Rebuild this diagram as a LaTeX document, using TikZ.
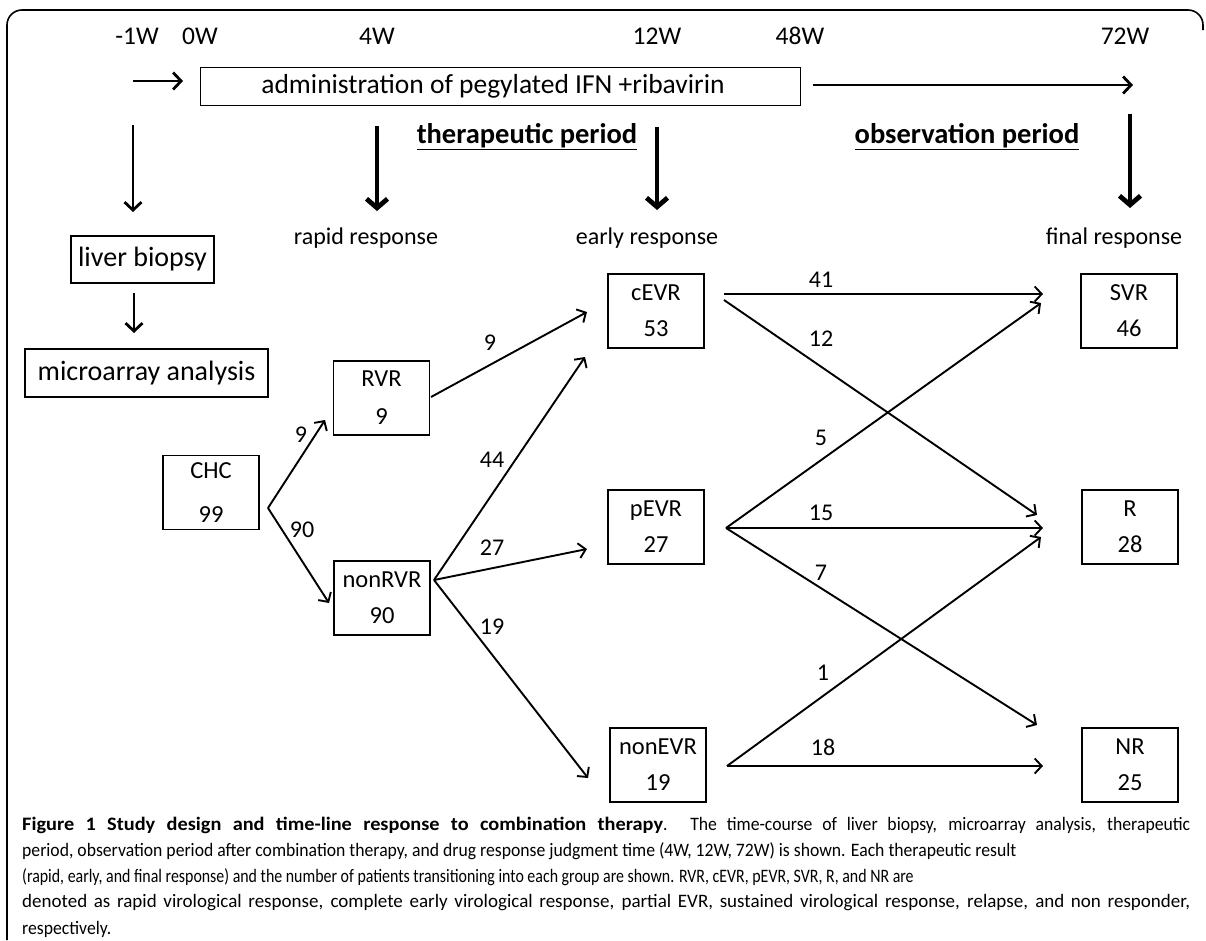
\documentclass[tikz,border=0pt]{standalone}
\usepackage{fontspec}
\setmainfont{Carlito}
\newfontfamily\capfont[FakeStretch=0.93, BoldFeatures={FakeStretch=1.07}]{Carlito}
\newfontfamily\capwide[FakeStretch=1.0]{Carlito}
\usetikzlibrary{arrows.meta}
\begin{document}
\begin{tikzpicture}[x=1pt,y=-1pt,
  box/.style={draw, line width=1.4pt, minimum width=96pt, minimum height=74pt, inner sep=0pt, align=center},
  bigbox/.style={draw, line width=1.4pt, inner sep=0pt, font=\fontsize{28}{32}\selectfont},
  lbl/.style={font=\fontsize{24}{28}\selectfont, inner sep=0pt},
  hdr/.style={font=\fontsize{25.5}{28}\selectfont, inner sep=0pt},
  per/.style={font=\fontsize{28.5}{32}\selectfont\bfseries, inner sep=0pt},
  num/.style={font=\fontsize{24}{28}\selectfont, inner sep=0pt},
  conn/.style={line width=1.9pt, -{Straight Barb[length=7pt,width=15pt]}},
  bigarrow/.style={line width=4.8pt, -{Straight Barb[length=9pt,width=21pt]}},
  midarrow/.style={line width=2.8pt, -{Straight Barb[length=8pt,width=17pt]}},
  capline/.style={anchor=west, inner sep=0pt, font=\capfont\fontsize{19}{22}\selectfont}
]
\useasboundingbox (0,0) rectangle (1206,940);
% frame
\draw[line width=1.6pt] (7,940) -- (7,25) arc[start angle=180,end angle=270,radius=15] -- (1188,10) arc[start angle=270,end angle=360,radius=15] -- (1203,30);

% header
\node[hdr] (wm1) at (137,36) {-1W};
\node[hdr] (w0) at (200,36) {0W};
\node[hdr] (w4) at (377,36) {4W};
\node[hdr] (w12) at (657,36) {12W};
\node[hdr] (w48) at (800,36) {48W};
\node[hdr] (w72) at (1125,36) {72W};

\node[draw, line width=1pt, minimum width=600pt, minimum height=38pt, inner sep=0pt, font=\fontsize{27.5}{30}\selectfont] (adm) at (500,86) {administration of pegylated IFN +ribavirin\hspace*{14pt}};
\coordinate (sa1) at (133,81);
\coordinate (sa2) at (183,81);
\draw[midarrow] (sa1) -- (sa2);
\coordinate (la1) at (813,85);
\coordinate (la2) at (1133,85);
\draw[midarrow] (la1) -- (la2);

\node[per] (tp) at (527,137) {\underline{therapeutic period}};
\node[per] (op) at (967,137) {\underline{observation period}};

% down arrows
\coordinate (d1a) at (133,125); \coordinate (d1b) at (133,212);
\draw[midarrow] (d1a) -- (d1b);
\coordinate (d2a) at (377,126); \coordinate (d2b) at (377,211);
\draw[bigarrow] (d2a) -- (d2b);
\coordinate (d3a) at (657,127); \coordinate (d3b) at (657,210);
\draw[bigarrow] (d3a) -- (d3b);
\coordinate (d4a) at (1130,114); \coordinate (d4b) at (1130,208);
\draw[bigarrow] (d4a) -- (d4b);

\node[lbl] (rr) at (366,238) {rapid response};
\node[lbl] (er) at (647,238) {early response};
\node[lbl] (fr) at (1114,238) {final response};

% left boxes
\node[bigbox, minimum width=143pt, minimum height=47pt] (lb) at (142.5,259.5) {liver biopsy};
\node[bigbox, minimum width=243pt, minimum height=48pt] (ma) at (146.5,373) {microarray analysis};
\coordinate (lbo) at (134,293);
\coordinate (mai) at (134,333);
\draw[midarrow] (lbo) -- (mai);

% flow boxes
\node[box, font=\fontsize{24.5}{44}\selectfont] (chc) at (211,492.5) {CHC\\99};
\node[box, font=\fontsize{24.5}{38}\selectfont] (rvr) at (381.5,398) {RVR\\9};
\node[box, font=\fontsize{24.5}{36}\selectfont] (nonrvr) at (382,598) {nonRVR\\90};
\node[box, font=\fontsize{24.5}{36}\selectfont] (cevr) at (656,311) {cEVR\\53};
\node[box, font=\fontsize{24.5}{36}\selectfont] (pevr) at (656,527) {pEVR\\27};
\node[box, font=\fontsize{24.5}{36}\selectfont] (nonevr) at (658,765) {nonEVR\\19};
\node[box, font=\fontsize{24.5}{36}\selectfont] (svr) at (1129,311) {SVR\\46};
\node[box, font=\fontsize{24.5}{36}\selectfont] (r) at (1130,527) {R\\28};
\node[box, font=\fontsize{24.5}{36}\selectfont] (nr) at (1130,765) {NR\\25};

% connector coordinates
\coordinate (chcO) at (268,508);
\coordinate (rvrI) at (325,420);
\coordinate (nrvrI) at (329,603);
\coordinate (rvrO) at (431,397);
\coordinate (nrvrO) at (434,580);
\coordinate (cevrI1) at (587,312);
\coordinate (cevrI2) at (585,357);
\coordinate (pevrI) at (587,549);
\coordinate (nevrI) at (588,778);
\coordinate (cevrO1) at (724,294);
\coordinate (cevrO2) at (724,300);
\coordinate (pevrO) at (726,528);
\coordinate (nevrO) at (727,766);
\coordinate (svrI1) at (1043,294);
\coordinate (svrI2) at (1041,303);
\coordinate (rI1) at (1037,515);
\coordinate (rI2) at (1043,528);
\coordinate (rI3) at (1041,537);
\coordinate (nrI1) at (1037,725);
\coordinate (nrI2) at (1043,766);

\draw[conn] (chcO) -- (rvrI);
\draw[conn] (chcO) -- (nrvrI);
\draw[conn] (rvrO) -- (cevrI1);
\draw[conn] (nrvrO) -- (cevrI2);
\draw[conn] (nrvrO) -- (pevrI);
\draw[conn] (nrvrO) -- (nevrI);
\draw[conn] (cevrO1) -- (svrI1);
\draw[conn] (cevrO2) -- (rI1);
\draw[conn] (pevrO) -- (svrI2);
\draw[conn] (pevrO) -- (rI2);
\draw[conn] (pevrO) -- (nrI1);
\draw[conn] (nevrO) -- (rI3);
\draw[conn] (nevrO) -- (nrI2);

% edge labels
\node[num] (n1) at (301,435) {9};
\node[num] (n2) at (302,530) {90};
\node[num] (n3) at (490,343) {9};
\node[num] (n4) at (492,460) {44};
\node[num] (n5) at (492,548) {27};
\node[num] (n6) at (492,627) {19};
\node[num] (n7) at (821,280) {41};
\node[num] (n8) at (821,339) {12};
\node[num] (n9) at (821,438) {5};
\node[num] (n10) at (821,513) {15};
\node[num] (n11) at (821,573) {7};
\node[num] (n12) at (823,673) {1};
\node[num] (n13) at (823,747) {18};

% caption
\node[capline] (c1) at (22,825) {\makebox[1168pt][s]{\bfseries Figure 1 Study design and time-line response to combination therapy\mdseries. The time-course of liver biopsy, microarray analysis, therapeutic}};
\node[capline] (c2) at (22,851) {period, observation period after combination therapy, and drug response judgment time (4W, 12W, 72W) is shown. Each therapeutic result};
\node[capline] (c3) at (22,877) {\scalebox{0.9}[1]{(rapid, early, and final response) and the number of patients transitioning into each group are shown. RVR, cEVR, pEVR, SVR, R, and NR are}};
\node[capline] (c4) at (22,903) {\capwide\fontsize{19}{22}\selectfont\makebox[1168pt][s]{denoted as rapid virological response, complete early virological response, partial EVR, sustained virological response, relapse, and non responder,}};
\node[capline] (c5) at (22,929) {respectively.};
\end{tikzpicture}
\end{document}
